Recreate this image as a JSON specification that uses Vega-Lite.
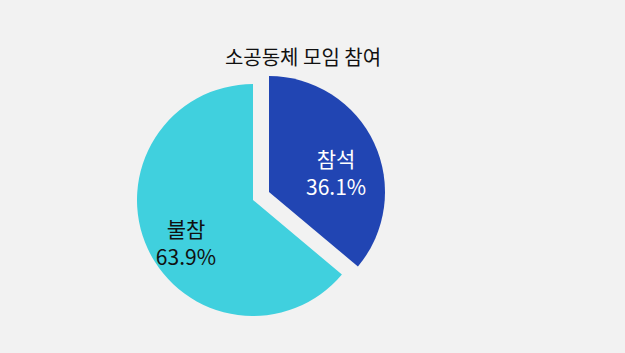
{
  "$schema": "https://vega.github.io/schema/vega-lite/v6.json",
  "width": 500,
  "height": 240,
  "autosize": "none",
  "padding": {"left": 3, "top": 80, "right": 122, "bottom": 33},
  "background": "#f2f2f2",
  "title": {
    "text": "소공동체 모임 참여",
    "font": "Noto Sans CJK KR",
    "fontSize": 20,
    "fontWeight": "normal",
    "color": "#111111",
    "anchor": "middle",
    "dx": 50,
    "offset": 7
  },
  "data": {
    "values": [
      {"category": "참석", "value": 36.1},
      {"category": "불참", "value": 63.9}
    ]
  },
  "transform": [
    {"calculate": "datum.category + '\\n' + format(datum.value, '.1f') + '%'", "as": "label"}
  ],
  "encoding": {
    "theta": {"field": "value", "type": "quantitative", "stack": true},
    "order": {"field": "category", "sort": "descending"}
  },
  "layer": [
    {
      "mark": {
        "type": "arc",
        "radius": 116,
        "xOffset": {"expr": "datum.category === '참석' ? 16 : 0"},
        "yOffset": {"expr": "datum.category === '참석' ? -8 : 0"}
      },
      "encoding": {
        "color": {
          "field": "category",
          "type": "nominal",
          "scale": {"domain": ["참석", "불참"], "range": ["#2145b3", "#40d0de"]},
          "legend": null
        }
      }
    },
    {
      "mark": {
        "type": "text",
        "radius": 74,
        "lineBreak": "\n",
        "font": "Noto Sans CJK KR",
        "fontSize": 21,
        "lineHeight": 28,
        "xOffset": {"expr": "datum.category === '참석' ? 16 : 0"},
        "yOffset": {"expr": "datum.category === '참석' ? -8 : 0"}
      },
      "encoding": {
        "text": {"field": "label", "type": "nominal"},
        "color": {
          "condition": {"test": "datum.category === '참석'", "value": "#ffffff"},
          "value": "#111111"
        }
      }
    }
  ]
}
